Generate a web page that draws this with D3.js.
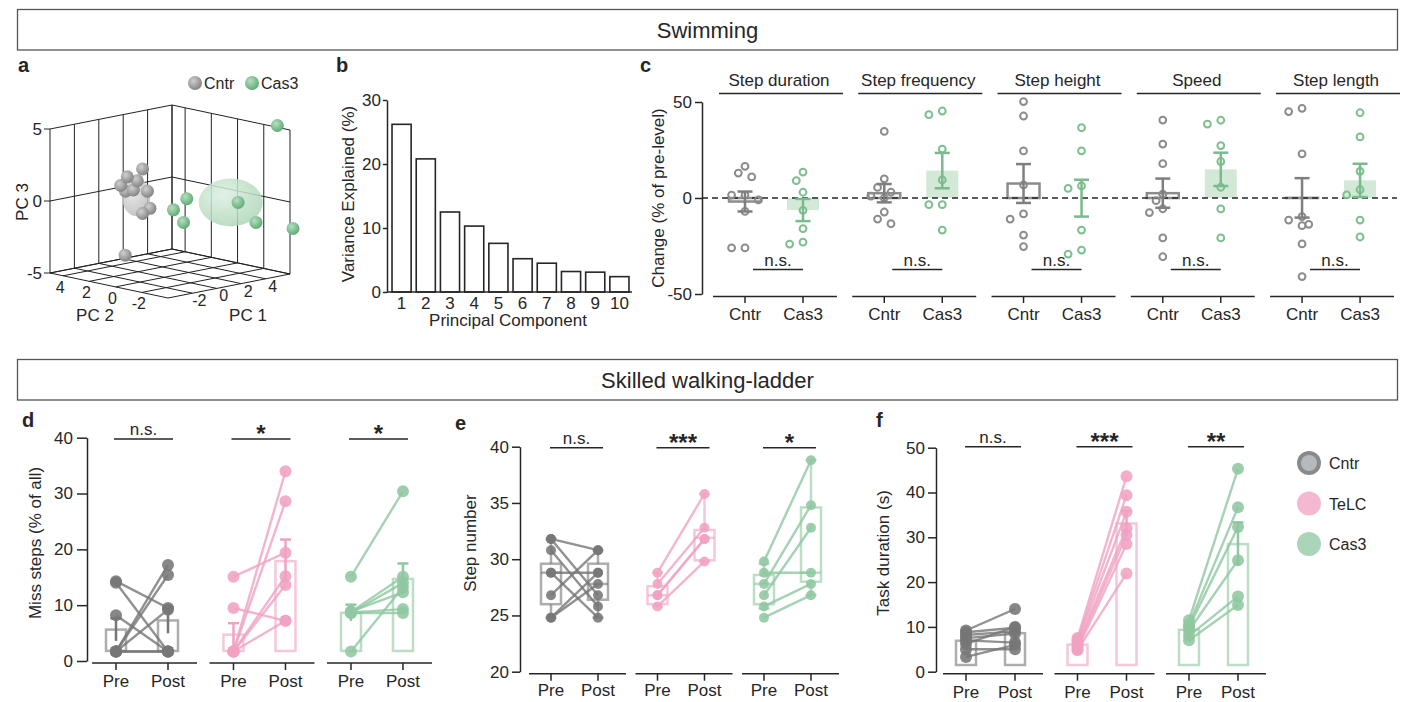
<!DOCTYPE html>
<html>
<head>
<meta charset="utf-8">
<title>Swimming and skilled walking-ladder</title>
<script src="https://cdn.jsdelivr.net/npm/d3@7"></script>
<style>
  body { margin: 0; background: #fff; }
  svg { display: block; }
</style>
</head>
<body>
<svg id="fig" width="1411" height="702"></svg>
<script>
// ---------- data ----------
const sections = ["Swimming", "Skilled walking-ladder"];

// a: PCA scores, [PC1, PC2, PC3]
const pcaGroups = ["Cntr", "Cas3"];
const pcaCntr = [
  [-2, -0.2, 2.9], [-2.5, 0.5, 2.3], [-2.5, 1.0, 1.6], [-2, 1.1, 1.1], [-2, 0.2, 2.0],
  [-1.5, -0.1, 1.25], [-1.5, -0.3, 0.1], [-2, -0.2, -0.2], [-3, 0.2, -3.0], [-2, 0.5, 1.3]
];
const pcaCas3 = [
  [5.5, -3.5, 5.3], [2, 0.15, 0.1], [1.5, 0.7, -0.7], [2, 0.4, -1.6],
  [4, -1.9, -0.1], [4.5, -2.8, -1.4], [6.3, -3.95, -1.9]
];
const pcTicks = [-2, 0, 2, 4];
const pc3Ticks = [-5, 0, 5];

// b: variance explained per component
const components = [1, 2, 3, 4, 5, 6, 7, 8, 9, 10];
const varExplained = [26.2, 20.8, 12.5, 10.3, 7.6, 5.2, 4.5, 3.2, 3.1, 2.4];

// c: swimming, change (% of pre-level)
const swimParams = ["Step duration", "Step frequency", "Step height", "Speed", "Step length"];
const swimGroups = ["Cntr", "Cas3"];
const swimCntr = [
  [16.5, 13, 11, 1.5, 1.5, -1, -7, -26, -26],
  [34.7, 10, 5.5, 3, 1, 0, -7.3, -11, -13.4],
  [50.2, 42.7, 24.5, 6.8, -8.3, -11, -19.3, -25.3],
  [40.6, 28.1, 17.9, 2, -1.4, -5.6, -7.6, -20.8, -30.6],
  [46.7, 45, 23, -9.7, -11.5, -13.7, -14.4, -23.9, -40.9]
];
const swimCas3 = [
  [13.5, 9, 3, -6.4, -16, -23, -24],
  [45.3, 43.4, 25.5, 9.4, -3.5, -3.5, -16.7],
  [36.6, 24.5, 6.3, 5, -16.7, -27.1, -29.2],
  [40.5, 38.5, 27.3, 19, 5.6, -5.7, -20.8],
  [44.4, 31.8, 13.9, 4.3, 1.6, -11.5, -20.3]
];

// d-f: skilled walking-ladder, paired pre/post per animal
const ladderGroups = ["Cntr", "TeLC", "Cas3"];
const phases = ["Pre", "Post"];

const missPre = [
  [14.3, 14.0, 8.2, 1.7, 1.7, 1.7, 1.7, 1.7],
  [15.1, 9.5, 1.7, 1.7, 1.7, 1.7, 1.7],
  [15.1, 1.7, 8.8, 8.6, 8.9, 8.7, 8.6]
];
const missPost = [
  [9.5, 1.7, 1.7, 17.2, 15.4, 9.2, 1.7, 1.7],
  [19.4, 7.2, 34, 28.6, 15.2, 13.6, 7.2],
  [30.4, 13.2, 15.1, 14, 12.3, 9.3, 8.6]
];
const missSig = ["n.s.", "*", "*"];

const stepPre = [
  [31.8, 31.8, 30.8, 28.8, 28.8, 26.8, 24.8, 24.8],
  [28.8, 27.8, 26.8, 26.8, 25.8],
  [29.8, 27.8, 26.8, 28.8, 25.8, 24.8]
];
const stepPost = [
  [30.8, 26.8, 25.8, 28.8, 24.8, 30.8, 28.8, 27.8],
  [35.8, 32.8, 31.8, 31.8, 29.8],
  [38.8, 34.8, 32.8, 28.8, 27.8, 26.8]
];
// box stats [low whisker, q1, median, q3, high whisker]
const stepBoxPre = [
  [24.8, 26.0, 28.8, 29.6, 31.8],
  [25.8, 26.0, 26.8, 27.6, 28.8],
  [25.6, 26.0, 27.8, 28.6, 29.6]
];
const stepBoxPost = [
  [24.8, 26.4, 27.8, 29.6, 30.8],
  [29.8, 29.9, 31.9, 32.6, 35.8],
  [26.8, 28.0, 28.8, 34.6, 38.8]
];
const stepSig = ["n.s.", "***", "*"];

const taskPre = [
  [9.2, 8.8, 8.2, 7.5, 7.0, 6.2, 5.0, 3.3],
  [7.5, 7.0, 6.5, 6.0, 5.5, 5.0, 4.8],
  [11.5, 10.5, 10.0, 9.2, 8.0, 7.0]
];
const taskPost = [
  [14.0, 9.8, 9.0, 8.5, 6.5, 10.0, 5.0, 6.0],
  [43.6, 39.4, 35.7, 32.0, 30.5, 28.5, 21.9],
  [45.3, 36.7, 32.3, 24.9, 16.8, 14.9]
];
const taskSig = ["n.s.", "***", "**"];

// ---------- setup ----------
const svg = d3.select("#fig");
const FONT = '"Liberation Sans", Arial, Helvetica, sans-serif';
const INK = "#262626";
svg.attr("font-family", FONT).attr("fill", INK);

const ladderColors = ["#767676", "#f0a2c2", "#8fc7a0"];
const cGray = "#8c8c8c", cGreen = "#7dbf8e", cGreenFill = "#d3e9d8";

const defs = svg.append("defs");
function grad(id, light, dark) {
  const g = defs.append("radialGradient").attr("id", id)
    .attr("cx", "38%").attr("cy", "35%").attr("r", "65%");
  g.append("stop").attr("offset", "0%").attr("stop-color", light);
  g.append("stop").attr("offset", "100%").attr("stop-color", dark);
}
grad("sphGray", "#cfcfcf", "#858585");
grad("sphGreen", "#b4e0c0", "#62ac76");
grad("ellGray", "#e6e6e6", "#bcbcbc");
grad("ellGreen", "#dcefe1", "#b0d7ba");

function styleAxis(ax) {
  ax.attr("font-family", FONT).attr("font-size", 17);
  ax.selectAll(".domain, .tick line").attr("stroke", INK).attr("stroke-width", 1.5);
  ax.selectAll(".tick text").attr("fill", INK);
}
function hline(g, x1, x2, y, w) {
  return g.append("line").attr("x1", x1).attr("x2", x2).attr("y1", y).attr("y2", y)
    .attr("stroke", INK).attr("stroke-width", w || 1.5);
}
function letter(t, x, y) {
  svg.append("text").attr("x", x).attr("y", y).attr("font-size", 20)
    .attr("font-weight", "bold").text(t);
}
function yLabel(g, t, x, y) {
  g.append("text").attr("transform", `translate(${x},${y}) rotate(-90)`)
    .attr("text-anchor", "middle").attr("font-size", 17).text(t);
}

// section banners
sections.forEach((s, i) => {
  const y0 = [9.5, 359.5][i];
  svg.append("rect").attr("x", 17.5).attr("y", y0).attr("width", 1380).attr("height", 40.5)
    .attr("fill", "none").attr("stroke", "#555").attr("stroke-width", 1.3);
  svg.append("text").attr("x", 707.5).attr("y", y0 + 28).attr("text-anchor", "middle")
    .attr("font-size", 22).text(s);
});

letter("a", 18, 72); letter("b", 336, 72); letter("c", 640, 72);
letter("d", 22, 427); letter("e", 455, 430); letter("f", 876, 427);

// ---------- a: 3D PCA ----------
{
  const g = svg.append("g");
  const a1 = d3.scaleLinear([-4, 6], [0, 1]);
  const a2 = d3.scaleLinear([-4, 5], [0, 1]);
  const a3 = d3.scaleLinear([-5, 5], [0, 144]);
  const O = [168, 298], E1 = [122, -24], E2 = [-118, -25];
  const proj = (p1, p2, p3) => [
    O[0] + a1(p1) * E1[0] + a2(p2) * E2[0],
    O[1] + a1(p1) * E1[1] + a2(p2) * E2[1] - a3(p3)
  ];
  const seg = (p, q) => {
    const A = proj(...p), B = proj(...q);
    g.append("line").attr("x1", A[0]).attr("y1", A[1]).attr("x2", B[0]).attr("y2", B[1])
      .attr("stroke", "#222").attr("stroke-width", 1);
  };
  const [m1, M1] = a1.domain(), [m2, M2] = a2.domain(), [m3, M3] = a3.domain();
  const g1 = [m1, ...pcTicks, M1], g2 = [m2, ...pcTicks, M2];
  // walls and floor
  g1.forEach(v => { seg([v, M2, m3], [v, M2, M3]); seg([v, m2, m3], [v, M2, m3]); });
  g2.forEach(v => { seg([M1, v, m3], [M1, v, M3]); seg([m1, v, m3], [M1, v, m3]); });
  pc3Ticks.forEach(h => { seg([m1, M2, h], [M1, M2, h]); seg([M1, m2, h], [M1, M2, h]); });
  // PC3 ticks
  pc3Ticks.forEach(h => {
    const P = proj(m1, M2, h);
    g.append("line").attr("x1", P[0] - 6).attr("x2", P[0]).attr("y1", P[1]).attr("y2", P[1])
      .attr("stroke", "#222").attr("stroke-width", 1);
    g.append("text").attr("x", P[0] - 8).attr("y", P[1] + 6).attr("text-anchor", "end")
      .attr("font-size", 17).text(String(h));
  });
  pcTicks.forEach(t => {
    const P = proj(m1, t, m3);
    g.append("text").attr("x", P[0] - 3).attr("y", P[1] + 17).attr("text-anchor", "middle")
      .attr("font-size", 16).text(String(t));
    const Q = proj(t, m2, m3);
    g.append("text").attr("x", Q[0] + 7).attr("y", Q[1] + 13).attr("text-anchor", "middle")
      .attr("font-size", 16).text(String(t));
  });
  g.append("text").attr("x", 95).attr("y", 321).attr("text-anchor", "middle").attr("font-size", 17).text("PC 2");
  g.append("text").attr("x", 248).attr("y", 321).attr("text-anchor", "middle").attr("font-size", 17).text("PC 1");
  yLabel(g, "PC 3", 28, 202);

  // group ellipsoids at projected centroids
  const cloud = [pcaCntr, pcaCas3];
  const ell = [[14, 19, "ellGray"], [32, 24, "ellGreen"]];
  cloud.forEach((pts, k) => {
    const P = pts.map(p => proj(...p));
    g.append("ellipse").attr("cx", d3.mean(P, d => d[0]) + 1).attr("cy", d3.mean(P, d => d[1]) + 1)
      .attr("rx", ell[k][0]).attr("ry", ell[k][1])
      .attr("fill", `url(#${ell[k][2]})`).attr("opacity", 0.85);
  });
  // spheres, far ones first
  const spheres = pcaCntr.map(p => ({ p, f: "sphGray" }))
    .concat(pcaCas3.map(p => ({ p, f: "sphGreen" })))
    .sort((u, v) => (a1(v.p[0]) + a2(v.p[1])) - (a1(u.p[0]) + a2(u.p[1])));
  spheres.forEach(s => {
    const P = proj(...s.p);
    g.append("circle").attr("cx", P[0]).attr("cy", P[1]).attr("r", 6.5).attr("fill", `url(#${s.f})`);
  });
  // legend
  pcaGroups.forEach((t, k) => {
    const x = [195, 252][k];
    g.append("circle").attr("cx", x).attr("cy", 83).attr("r", 7)
      .attr("fill", k ? "url(#sphGreen)" : "url(#sphGray)");
    g.append("text").attr("x", x + 9).attr("y", 89).attr("font-size", 16).text(t);
  });
}

// ---------- b: variance explained ----------
{
  const g = svg.append("g");
  const x = d3.scaleBand(components, [389.6, 631.4]).paddingInner(0.21).paddingOuter(0.1);
  const y = d3.scaleLinear([0, 30], [292, 100]);
  g.selectAll("rect").data(varExplained).join("rect")
    .attr("x", (d, i) => x(components[i])).attr("width", x.bandwidth())
    .attr("y", d => y(d)).attr("height", d => y(0) - y(d))
    .attr("fill", "#fff").attr("stroke", INK).attr("stroke-width", 1.6);
  const ay = g.append("g").attr("transform", "translate(387,0)")
    .call(d3.axisLeft(y).tickValues([0, 10, 20, 30]).tickSize(4).tickSizeOuter(0).tickPadding(2));
  styleAxis(ay);
  hline(g, 387, 632, y(0));
  g.selectAll(".xl").data(components).join("text")
    .attr("x", d => x(d) + x.bandwidth() / 2).attr("y", 309)
    .attr("text-anchor", "middle").attr("font-size", 17).text(d => d);
  g.append("text").attr("x", 508).attr("y", 326).attr("text-anchor", "middle")
    .attr("font-size", 17).text("Principal Component");
  yLabel(g, "Variance Explained (%)", 354, 194);
}

// ---------- c: swimming parameters ----------
function swarm(values, y, r, step) {
  const placed = [], offs = new Array(values.length).fill(0);
  values.map((v, i) => i).sort((a, b) => values[b] - values[a]).forEach(i => {
    const py = y(values[i]);
    for (const o of [0, -step, step, -2 * step, 2 * step]) {
      if (placed.every(p => Math.hypot(p[0] - o, p[1] - py) >= 2 * r)) {
        offs[i] = o; placed.push([o, py]); return;
      }
    }
  });
  return offs;
}
{
  const g = svg.append("g");
  const y = d3.scaleLinear([-50, 50], [294, 102]);
  const band = d3.scaleBand(swimParams, [713, 1394]).paddingInner(0.11);
  const sub = d3.scalePoint(swimGroups, [32, 90]);
  const ay = g.append("g").attr("transform", "translate(702,0)")
    .call(d3.axisLeft(y).tickValues([-50, 0, 50]).tickSize(7).tickSizeOuter(0).tickPadding(3)
      .tickFormat(d => String(d)));
  styleAxis(ay);
  yLabel(g, "Change (% of pre-level)", 664, 198);

  const layers = { bars: g.append("g"), zero: g.append("g"), pts: g.append("g"), err: g.append("g") };
  layers.zero.append("line").attr("x1", 702).attr("x2", 1397).attr("y1", y(0)).attr("y2", y(0))
    .attr("stroke", INK).attr("stroke-width", 1.5).attr("stroke-dasharray", "6,4");

  swimParams.forEach((p, i) => {
    const x0 = band(p);
    g.append("text").attr("x", x0 + 66).attr("y", 86).attr("text-anchor", "middle")
      .attr("font-size", 17).text(p);
    hline(g, x0 + 6, x0 + 130, 93.5);
    hline(g, x0, x0 + band.bandwidth(), 296.5);
    swimGroups.forEach((grp, j) => {
      const cx = x0 + sub(grp);
      g.append("line").attr("x1", cx).attr("x2", cx).attr("y1", 296.5).attr("y2", 303)
        .attr("stroke", INK).attr("stroke-width", 1.5);
      g.append("text").attr("x", cx).attr("y", 320).attr("text-anchor", "middle")
        .attr("font-size", 17).text(grp);
      const vals = (j ? swimCas3 : swimCntr)[i];
      const m = d3.mean(vals), se = d3.deviation(vals) / Math.sqrt(vals.length);
      const col = j ? cGreen : cGray;
      const bar = layers.bars.append("rect").attr("x", cx - 16).attr("width", 32)
        .attr("y", Math.min(y(m), y(0))).attr("height", Math.abs(y(0) - y(m)));
      if (j) bar.attr("fill", cGreenFill);
      else bar.attr("fill", "none").attr("stroke", col).attr("stroke-width", 2.5);
      const offs = swarm(vals, y, 4.6, 6.7);
      vals.forEach((v, k) => {
        layers.pts.append("circle").attr("cx", cx + offs[k]).attr("cy", y(v)).attr("r", 3.4)
          .attr("fill", "none").attr("stroke", col).attr("stroke-width", 2);
      });
      const e = layers.err.append("g").attr("stroke", j ? "#79bb8a" : "#7f7f7f").attr("stroke-width", 2.5);
      e.append("line").attr("x1", cx).attr("x2", cx).attr("y1", y(m - se)).attr("y2", y(m + se));
      [m - se, m + se].forEach(v => e.append("line").attr("x1", cx - 7.5).attr("x2", cx + 7.5)
        .attr("y1", y(v)).attr("y2", y(v)));
    });
    const xa = x0 + sub("Cntr"), xb = x0 + sub("Cas3");
    hline(g, xa + 8, xb, 269.5);
    g.append("text").attr("x", (xa + 8 + xb) / 2).attr("y", 266).attr("text-anchor", "middle")
      .attr("font-size", 17).text("n.s.");
  });
}

// ---------- d-f: ladder panels ----------
function ladderPanel(o) {
  const g = svg.append("g");
  const y = o.y;
  const ay = g.append("g").attr("transform", `translate(${o.axisX},0)`)
    .call(d3.axisLeft(y).tickValues(o.ticks).tickSize(o.tick).tickSizeOuter(0).tickPadding(o.pad));
  styleAxis(ay);
  yLabel(g, o.label, o.labelX, o.labelY);
  const band = d3.scaleBand(ladderGroups, o.range).paddingInner(o.inner);
  const sub = d3.scalePoint(phases, o.sub);
  const baseY = y.range()[0] + 2;
  ladderGroups.forEach((grp, i) => {
    const x0 = band(grp), col = ladderColors[i];
    const xs = [x0 + sub("Pre"), x0 + sub("Post")];
    hline(g, x0, x0 + band.bandwidth(), baseY);
    phases.forEach((ph, k) => {
      g.append("line").attr("x1", xs[k]).attr("x2", xs[k]).attr("y1", baseY).attr("y2", baseY + 7)
        .attr("stroke", INK).attr("stroke-width", 1.5);
      g.append("text").attr("x", xs[k]).attr("y", o.tickTextY).attr("text-anchor", "middle")
        .attr("font-size", 17).text(ph);
    });
    // significance
    hline(g, xs[0] + o.sigL, xs[1] + o.sigR, o.sigY);
    const s = o.sig[i], star = s !== "n.s.";
    g.append("text").attr("x", (xs[0] + o.sigL + xs[1] + o.sigR) / 2).attr("y", star ? o.sigY + 3 : o.sigY - 4)
      .attr("text-anchor", "middle").attr("font-size", star ? 24 : 17)
      .attr("font-weight", star ? "bold" : "normal").text(s);

    const sets = [o.pre[i], o.post[i]];
    const shapes = g.append("g").attr("fill", "none").attr("stroke", col)
      .attr("stroke-opacity", 0.6).attr("stroke-width", 2.5);
    if (o.box) {
      [o.box[0][i], o.box[1][i]].forEach((b, k) => {
        const [lo, q1, md, q3, hi] = b, cx = xs[k];
        shapes.append("rect").attr("x", cx - 10).attr("width", 20).attr("y", y(q3)).attr("height", y(q1) - y(q3));
        shapes.append("line").attr("x1", cx - 10).attr("x2", cx + 10).attr("y1", y(md)).attr("y2", y(md));
        [[lo, q1], [hi, q3]].forEach(([w, q]) => {
          shapes.append("line").attr("x1", cx).attr("x2", cx).attr("y1", y(w)).attr("y2", y(q));
          shapes.append("line").attr("x1", cx - 5.5).attr("x2", cx + 5.5).attr("y1", y(w)).attr("y2", y(w));
        });
      });
    } else {
      sets.forEach((vals, k) => {
        const m = d3.mean(vals);
        shapes.append("rect").attr("x", xs[k] - 10).attr("width", 20)
          .attr("y", y(m)).attr("height", y(o.base) - y(m));
      });
    }
    // paired lines and points
    sets[0].forEach((v, k) => {
      g.append("line").attr("x1", xs[0]).attr("x2", xs[1]).attr("y1", y(v)).attr("y2", y(sets[1][k]))
        .attr("stroke", col).attr("stroke-opacity", 0.8).attr("stroke-width", 2.4);
    });
    sets.forEach((vals, k) => vals.forEach(v => {
      g.append("circle").attr("cx", xs[k]).attr("cy", y(v)).attr("r", o.r)
        .attr("fill", col).attr("fill-opacity", 0.88);
    }));
    if (!o.box) {
      sets.forEach((vals, k) => {
        const m = d3.mean(vals), se = d3.deviation(vals) / Math.sqrt(vals.length);
        const e = g.append("g").attr("stroke", col).attr("stroke-width", 2.5);
        e.append("line").attr("x1", xs[k]).attr("x2", xs[k]).attr("y1", y(m - se)).attr("y2", y(m + se));
        e.append("line").attr("x1", xs[k] - 5.5).attr("x2", xs[k] + 5.5).attr("y1", y(m + se)).attr("y2", y(m + se));
      });
    }
  });
  return g;
}

ladderPanel({
  y: d3.scaleLinear([0, 40], [661, 437.7]), axisX: 87, ticks: [0, 10, 20, 30, 40], tick: 10, pad: 4,
  label: "Miss steps (% of all)", labelX: 41, labelY: 543,
  range: [92, 432], inner: 0.106, sub: [24, 76], tickTextY: 687,
  sigY: 439, sigL: -2, sigR: 5, sig: missSig,
  pre: missPre, post: missPost, base: 1.8, r: 6
});
ladderPanel({
  y: d3.scaleLinear([20, 40], [671.7, 446.7]), axisX: 520, ticks: [20, 25, 30, 35, 40], tick: 8, pad: 3,
  label: "Step number", labelX: 476, labelY: 543,
  range: [529, 839], inner: 0.089, sub: [22, 69], tickTextY: 696,
  sigY: 447.7, sigL: -1, sigR: 5, sig: stepSig,
  pre: stepPre, post: stepPost, box: [stepBoxPre, stepBoxPost], r: 5
});
const gf = ladderPanel({
  y: d3.scaleLinear([0, 50], [671.7, 447.7]), axisX: 936, ticks: [0, 10, 20, 30, 40, 50], tick: 8, pad: 3,
  label: "Task duration (s)", labelX: 889, labelY: 553,
  range: [943, 1266], inner: 0.103, sub: [23, 72], tickTextY: 698,
  sigY: 446.7, sigL: -1, sigR: 6, sig: taskSig,
  pre: taskPre, post: taskPost, base: 1.5, r: 6
});

// legend
ladderGroups.forEach((t, i) => {
  const cy = 463 + i * 40.5;
  gf.append("circle").attr("cx", 1309).attr("cy", cy).attr("r", 12)
    .attr("fill", ladderColors[i]).attr("fill-opacity", i ? 0.75 : 0.85);
  if (i === 0) gf.append("circle").attr("cx", 1309).attr("cy", cy).attr("r", 8).attr("fill", "#b7babd");
  gf.append("text").attr("x", 1329).attr("y", cy + 6).attr("font-size", 16).text(t);
});
</script>
</body>
</html>
